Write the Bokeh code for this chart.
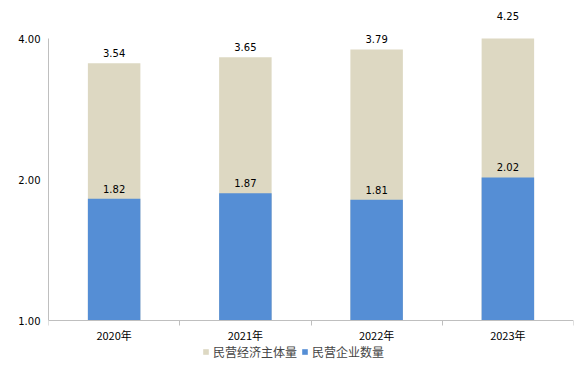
import math
from bokeh.plotting import figure
from bokeh.models import ColumnDataSource, Range1d, FixedTicker, Label, Legend, LegendItem, NumeralTickFormatter
from bokeh.embed import file_html
from bokeh.resources import INLINE

years = ["2020年", "2021年", "2022年", "2023年"]
economy_total = [3.54, 3.65, 3.79, 4.25]
enterprises = [1.82, 1.87, 1.81, 2.02]
y_ticks = [1, 2, 4]

y_min, y_max = y_ticks[0], y_ticks[-1]

# layout (pixels)
PX_PER_DOUBLING = 141
PAD_TOP = 315       # pixels of frame above value 1 (axis line)
PAD_BOTTOM = 46     # pixels of frame below value 1 (room for x labels + legend)
view_top = y_min * 2 ** (PAD_TOP / PX_PER_DOUBLING)
view_bottom = y_min * 2 ** (-PAD_BOTTOM / PX_PER_DOUBLING)

xs = [i + 0.5 for i in range(len(years))]
src = ColumnDataSource(dict(x=xs, total=[min(v, y_max) for v in economy_total], ent=enterprises))

p = figure(frame_width=525, frame_height=PAD_TOP + PAD_BOTTOM, output_backend="svg", toolbar_location=None,
           y_axis_type="log", x_range=Range1d(0, len(years)), y_range=Range1d(view_bottom, view_top),
           min_border_left=48, min_border_right=5, min_border_top=5, min_border_bottom=0)
p.outline_line_color = None
p.xgrid.visible = False
p.ygrid.visible = False

CN = "Noto Sans CJK SC"
NUM = "DejaVu Sans"
beige = "#DDD8C2"
blue = "#558ED5"

r1 = p.vbar(x="x", top="total", bottom=y_min, width=0.4, source=src, fill_color=beige, line_color=None)
r2 = p.vbar(x="x", top="ent", bottom=y_min, width=0.4, source=src, fill_color=blue, line_color=None)

for series in (economy_total, enterprises):
    for x, v in zip(xs, series):
        p.add_layout(Label(x=x, y=v, text=f"{v:.2f}", text_align="center", text_baseline="bottom",
                           y_offset=6, text_font_size="10px", text_font=NUM, text_color="#000000"))

p.yaxis.bounds = (y_min, y_max)
p.yaxis.ticker = FixedTicker(ticks=y_ticks, minor_ticks=[])
p.yaxis.formatter = NumeralTickFormatter(format="0.00")
p.yaxis.major_tick_line_color = None
p.yaxis.major_tick_out = 0
p.yaxis.minor_tick_line_color = None
p.yaxis.axis_line_color = "#BFBFBF"
p.yaxis.major_label_text_font = NUM
p.yaxis.major_label_text_font_size = "10px"
p.yaxis.major_label_text_color = "#000000"
p.yaxis.major_label_standoff = 8

p.xaxis.fixed_location = y_min
p.xaxis.ticker = FixedTicker(ticks=xs, minor_ticks=list(range(len(years) + 1)))
p.xaxis.major_label_overrides = {x: y for x, y in zip(xs, years)}
p.xaxis.major_tick_line_color = None
p.xaxis.major_tick_out = 0
p.xaxis.major_tick_in = 0
p.xaxis.minor_tick_line_color = "#BFBFBF"
p.xaxis.minor_tick_out = 5
p.xaxis.minor_tick_in = 0
p.xaxis.axis_line_color = "#BFBFBF"
p.xaxis.major_label_text_font = CN
p.xaxis.major_label_text_font_size = "11px"
p.xaxis.major_label_text_color = "#000000"
p.xaxis.major_label_standoff = 1

legend = Legend(items=[LegendItem(label="民营经济主体量", renderers=[r1]),
                       LegendItem(label="民营企业数量", renderers=[r2])],
                orientation="horizontal", location=(154, 6),
                label_text_font=CN, label_text_font_size="12px", label_height=14,
                glyph_width=7, glyph_height=7, spacing=4, label_standoff=4,
                padding=0, margin=0, border_line_color=None, background_fill_alpha=0)
p.add_layout(legend, "center")

open("out.html", "w").write(file_html(p, INLINE))
